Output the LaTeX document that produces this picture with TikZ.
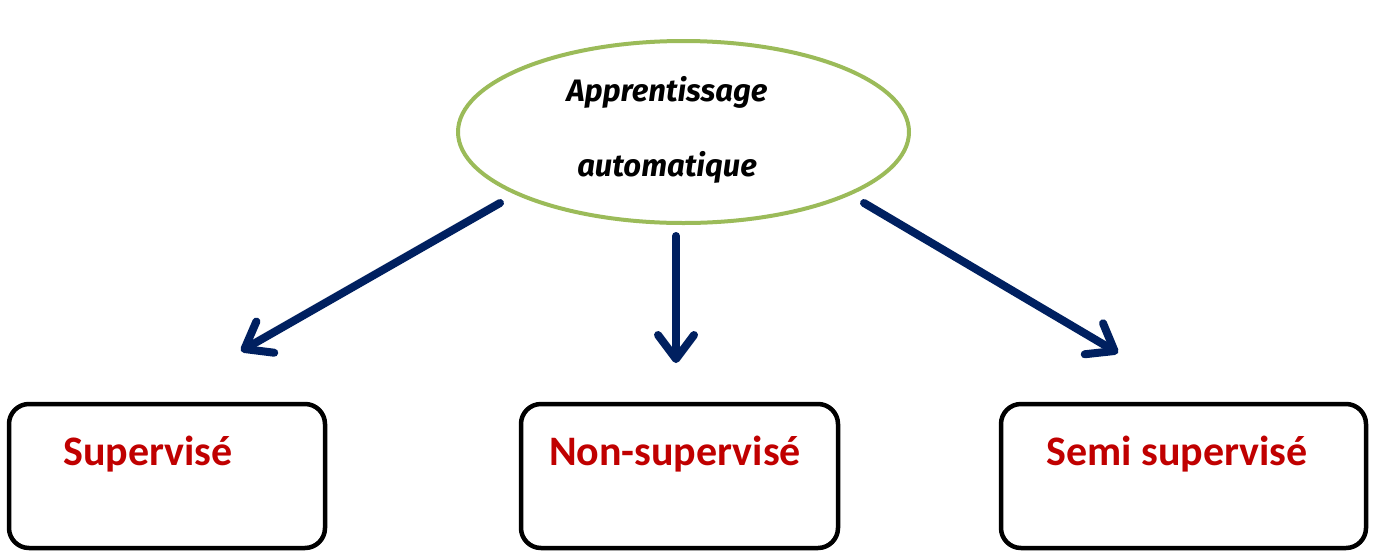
\documentclass[tikz,border=0pt]{standalone}
\usepackage{fontspec}
\setmainfont{Carlito}
\newfontfamily\handfont{Fira Sans}
\usetikzlibrary{arrows.meta,shapes.geometric}
\definecolor{leafgreen}{HTML}{9BBB59}
\definecolor{navyarrow}{HTML}{002060}
\definecolor{labelred}{HTML}{C00000}
\tikzset{
  root/.style={ellipse, draw=leafgreen, line width=4pt, minimum width=451pt, minimum height=182pt, inner sep=0pt},
  leafbox/.style={draw=black, line width=4.5pt, rounded corners=20pt, minimum height=144pt, inner sep=0pt},
  branch/.style={draw=navyarrow, line width=8pt, line cap=round,
    -{Straight Barb[length=24pt, width=36pt, round]}},
  boxlabel/.style={text=labelred, font=\fontsize{42}{48}\selectfont\bfseries, anchor=base, inner sep=0pt},
  rootlabel/.style={font=\handfont\fontsize{31}{36}\selectfont\bfseries\itshape, anchor=base, inner sep=0pt}
}
\begin{document}
\begin{tikzpicture}[x=1pt, y=-1pt]
  \useasboundingbox (0,0) rectangle (1374,550);
  % central concept
  \node[root] (ml) at (683.5,132) {};
  \node[rootlabel] (t1) at (667,101) {Apprentissage};
  \node[rootlabel] (t2) at (667,176) {automatique};
  % the three kinds of learning
  \node[leafbox, minimum width=316pt] (sup) at (167,476) {};
  \node[leafbox, minimum width=317pt] (nonsup) at (679.5,476) {};
  \node[leafbox, minimum width=365pt] (semi) at (1183.5,476) {};
  \node[boxlabel] (l1) at (148,465) {Supervisé};
  \node[boxlabel] (l2) at (675,465) {Non-supervisé};
  \node[boxlabel] (l3) at (1177,465) {Semi supervisé};
  % arrow end points
  \coordinate (a1s) at (500,203);
  \coordinate (a1e) at (241,351);
  \coordinate (a2s) at (676,236);
  \coordinate (a2e) at (676,363);
  \coordinate (a3s) at (864,203);
  \coordinate (a3e) at (1118,353);
  \draw[branch] (a1s) -- (a1e);
  \draw[branch] (a2s) -- (a2e);
  \draw[branch] (a3s) -- (a3e);
\end{tikzpicture}
\end{document}
